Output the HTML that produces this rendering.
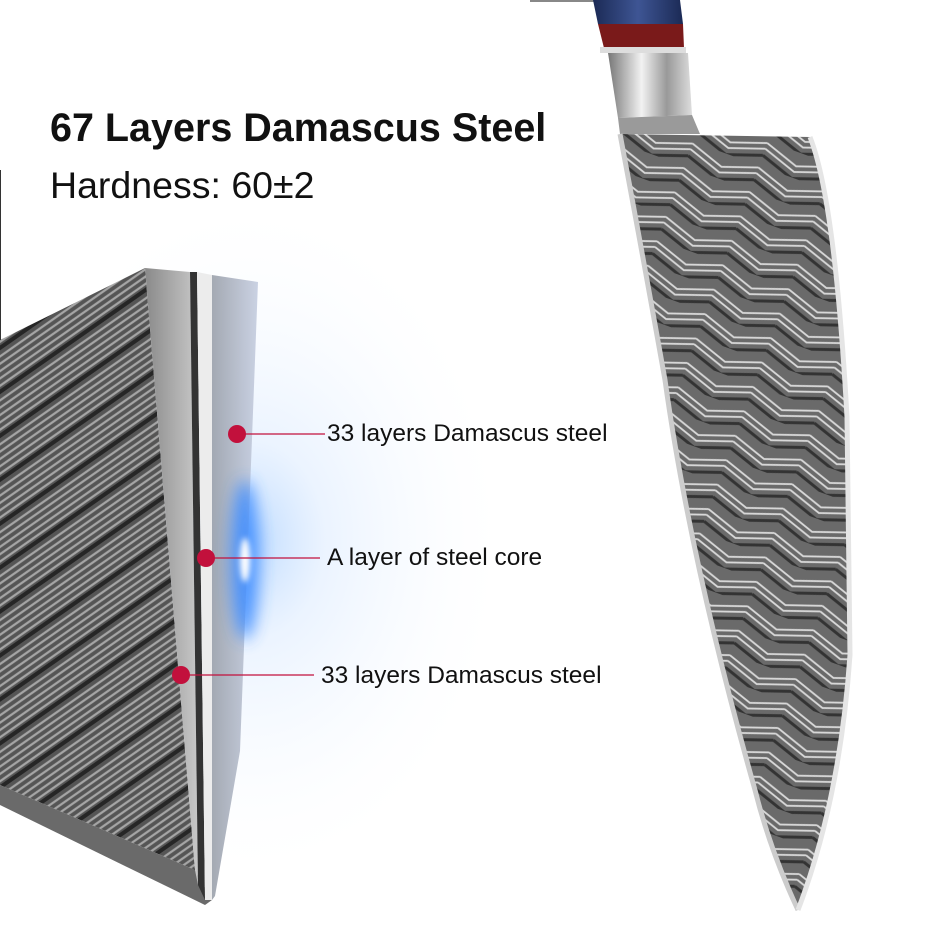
<!DOCTYPE html>
<html><head><style>
html,body{margin:0;padding:0;background:#fff;}
body{width:940px;height:939px;position:relative;overflow:hidden;font-family:"Liberation Sans","DejaVu Sans",sans-serif;}
.t{position:absolute;color:#111;white-space:nowrap;}
</style></head><body>
<svg width="940" height="939" style="position:absolute;left:0;top:0">
<defs>
<radialGradient id="glow" cx="0.5" cy="0.5" r="0.5">
<stop offset="0" stop-color="#5aa4ff" stop-opacity="0.8"/>
<stop offset="0.3" stop-color="#9cc6ff" stop-opacity="0.4"/>
<stop offset="1" stop-color="#eaf3ff" stop-opacity="0"/>
</radialGradient>
<filter id="bl" x="-2" y="-2" width="5" height="5"><feGaussianBlur stdDeviation="8"/></filter>
<filter id="bl2" x="-2" y="-2" width="5" height="5"><feGaussianBlur stdDeviation="3"/></filter>
<pattern id="dam" width="60" height="36" patternUnits="userSpaceOnUse" patternTransform="rotate(-35)">
<rect width="60" height="36" fill="#555"/>
<path d="M0 4H60M0 10H60M0 16H60M0 22H60M0 28H60" stroke="#a5a5a5" stroke-width="2.2"/>
<path d="M0 33H60" stroke="#262626" stroke-width="4"/>
</pattern>
<pattern id="chev" width="70" height="26" patternUnits="userSpaceOnUse" patternTransform="rotate(20)">
<rect width="70" height="26" fill="#6a6a6a"/>
<path d="M0 2L35 14L70 2M0 8L35 20L70 8" stroke="#d8d8d8" stroke-width="1.8" fill="none"/>
<path d="M0 15L35 27L70 15" stroke="#333" stroke-width="3" fill="none"/>
</pattern>
<linearGradient id="hand" x1="0" x2="1">
<stop offset="0" stop-color="#1b2a55"/><stop offset="0.5" stop-color="#3e5594"/><stop offset="1" stop-color="#1b2a55"/>
</linearGradient>
<linearGradient id="bol" x1="0" x2="1">
<stop offset="0" stop-color="#777"/><stop offset="0.4" stop-color="#f2f2f2"/><stop offset="0.7" stop-color="#999"/><stop offset="1" stop-color="#ddd"/>
</linearGradient>
<linearGradient id="bev" x1="0" x2="1">
<stop offset="0" stop-color="#8a8a8a"/><stop offset="1" stop-color="#c8c8c8"/>
</linearGradient>
<linearGradient id="rbev" x1="0" x2="1">
<stop offset="0" stop-color="#9aa0aa"/><stop offset="1" stop-color="#c5cde0"/>
</linearGradient>
</defs>
<ellipse cx="250" cy="540" rx="250" ry="330" fill="url(#glow)" opacity="0.5"/>
<!-- left block -->
<polygon points="0,340 145,268 195,870 0,785" fill="url(#dam)"/>
<polygon points="0,785 195,870 212,900 205,905 0,805" fill="#6a6a6a"/>
<polygon points="145,268 190,272 198,885 195,870" fill="url(#bev)"/>
<polygon points="190,272 197,272 205,900 198,885" fill="#333"/>
<polygon points="197,272 212,275 212,900 205,900" fill="#ececec"/>
<polygon points="212,275 258,282 240,751 215,896 212,900" fill="url(#rbev)" opacity="0.9"/>
<ellipse cx="245" cy="560" rx="14" ry="80" fill="#3d8cff" filter="url(#bl)" opacity="0.9"/>
<ellipse cx="245" cy="560" rx="5" ry="22" fill="#ffffff" filter="url(#bl2)"/>
<line x1="0" y1="170" x2="0" y2="340" stroke="#333" stroke-width="2"/>
<!-- knife -->
<line x1="530" y1="1" x2="595" y2="1" stroke="#888" stroke-width="2"/>
<polygon points="593,0 680,0 683,24 598,24" fill="url(#hand)"/>
<polygon points="598,24 683,24 684,48 604,48" fill="#7a1a1a"/>
<rect x="600" y="47" width="86" height="6" fill="#ddd"/>
<polygon points="608,53 688,53 692,115 618,118" fill="url(#bol)"/>
<polygon points="618,118 692,115 700,134 620,134" fill="#9a9a9a"/>
<path d="M620,134 L810,137 Q835,200 847,417 L850,655 Q840,800 798,910 Q770,850 755,790 Q690,560 665,380 Q640,240 620,134 Z" fill="url(#chev)"/>
<path d="M620,134 Q640,240 665,380 Q690,560 755,790 Q770,850 798,910" stroke="#ccc" stroke-width="5" fill="none"/>
<path d="M810,137 Q835,200 847,417 L850,655 Q840,800 798,910" stroke="#e5e5e5" stroke-width="5" fill="none"/>
<line x1="237" y1="434" x2="325" y2="434" stroke="#c2103c" stroke-width="1.2"/>
<line x1="206" y1="558" x2="320" y2="558" stroke="#c2103c" stroke-width="1.2"/>
<line x1="181" y1="675" x2="314" y2="675" stroke="#c2103c" stroke-width="1.2"/>
<circle cx="237" cy="434" r="9" fill="#c2103c"/>
<circle cx="206" cy="558" r="9" fill="#c2103c"/>
<circle cx="181" cy="675" r="9" fill="#c2103c"/>
</svg>
<div class="t" style="left:50px;top:106px;font-size:39.5px;font-weight:bold;">67 Layers Damascus Steel</div>
<div class="t" style="left:50px;top:164px;font-size:37.5px;">Hardness: 60±2</div>
<div class="t" style="left:327px;top:420px;font-size:24.5px;">33 layers Damascus steel</div>
<div class="t" style="left:327px;top:544px;font-size:24.5px;">A layer of steel core</div>
<div class="t" style="left:321px;top:662px;font-size:24.5px;">33 layers Damascus steel</div>
</body></html>
